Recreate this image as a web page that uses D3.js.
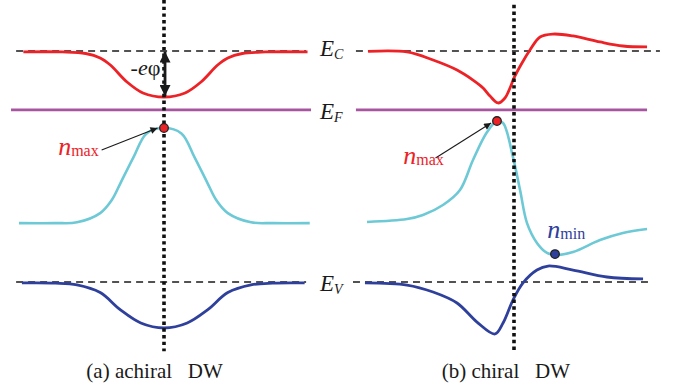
<!DOCTYPE html>
<html>
<head>
<meta charset="utf-8">
<script src="https://cdn.jsdelivr.net/npm/d3@7"></script>
<style>
  html, body { margin: 0; padding: 0; background: #fff; }
  svg { display: block; }
  text { font-family: "Liberation Serif", "Times New Roman", serif; }
</style>
</head>
<body>
<svg id="chart" width="685" height="390"></svg>
<script>
// Band diagrams across a domain wall (position in nm-like units, energy in eV-like units)
const levelEC = 1.2;
const levelEF = 0.894;
const levelEV = 0.0;

// (a) achiral domain wall
const achiralPosCB = [-9.7, -7.0, -5.4, -4.4, -3.7, -2.55, -1.45, 0, 1.45, 2.55, 3.7, 4.4, 5.4, 7.0, 9.9];
const achiralCB    = [1.195, 1.195, 1.187, 1.164, 1.127, 1.039, 0.982, 0.961, 0.982, 1.039, 1.127, 1.164, 1.187, 1.195, 1.195];
const achiralPosN  = [-10, -7.5, -6, -4.4, -3.6, -3.0, -2.1, -1.2, 0, 1.2, 2.1, 3.0, 3.6, 4.4, 6, 7.5, 10.05];
const achiralN     = [0.306, 0.306, 0.31, 0.358, 0.426, 0.514, 0.649, 0.772, 0.80, 0.772, 0.649, 0.514, 0.426, 0.358, 0.31, 0.306, 0.306];
const achiralPosVB = [-9.8, -7.5, -6, -4.4, -3.0, -1.6, 0, 1.6, 3.0, 4.4, 6, 7.5, 9.7];
const achiralVB    = [-0.005, -0.006, -0.015, -0.055, -0.145, -0.213, -0.239, -0.213, -0.145, -0.055, -0.015, -0.006, -0.005];

// (b) chiral domain wall
const chiralPosCB = [-9.86, -7.23, -5.47, -3.85, -2.77, -2.09, -1.62, -1.08, -0.61, -0.27, 0.0, 0.54, 1.08, 1.76, 2.64, 3.99, 5.81, 7.36, 8.99];
const chiralCB    = [1.198, 1.195, 1.153, 1.101, 1.049, 1.008, 0.966, 0.93, 0.956, 1.008, 1.060, 1.138, 1.205, 1.273, 1.288, 1.278, 1.247, 1.226, 1.221];
const chiralPosN  = [-9.93, -7.23, -6.15, -4.80, -3.65, -2.77, -1.82, -1.15, -0.74, -0.07, 0.41, 0.88, 1.55, 2.23, 2.77, 3.99, 5.81, 7.36, 8.99];
const chiralN     = [0.312, 0.327, 0.348, 0.400, 0.478, 0.634, 0.779, 0.836, 0.826, 0.649, 0.478, 0.306, 0.203, 0.151, 0.140, 0.156, 0.218, 0.255, 0.275];
const chiralPosVB = [-10.07, -7.23, -5.47, -3.85, -2.5, -1.28, -0.74, -0.07, 0.61, 1.55, 2.30, 3.99, 6.28, 8.72];
const chiralVB    = [-0.005, -0.016, -0.052, -0.109, -0.208, -0.270, -0.213, -0.094, -0.005, 0.062, 0.083, 0.062, 0.026, 0.016];

// Extremes marked with dots
const achiralMax = { z: 0, n: 0.80 };
const chiralMax  = { z: -1.15, n: 0.836 };
const chiralMin  = { z: 2.77, n: 0.145 };

// Extents of the reference levels in each panel
const achiralLevelsZ = { EC: [-10.2, 9.8], EF: [-10.55, 10.14], EV: [-10.2, 9.8] };
const chiralLevelsZ  = { EC: [-10.68, 9.86], EF: [-10.68, 8.99], EV: [-10.88, 9.39] };

const captions = ["(a) achiral\u00a0\u00a0\u00a0DW", "(b) chiral\u00a0\u00a0\u00a0DW"];

const colors = {
  cb: "#ec2227",
  ef: "#a8559f",
  n: "#6dc9d5",
  vb: "#2e409b",
  ink: "#1a1a1a"
};

const svg = d3.select("#chart");

const y = d3.scaleLinear().domain([0, 1.2]).range([282, 51]);
const xA = d3.scaleLinear().domain([-10, 10]).range([19, 309]);
const xB = d3.scaleLinear().domain([-10, 10]).range([366, 662]);

const defs = svg.append("defs");
function marker(id, w, h) {
  defs.append("marker")
    .attr("id", id)
    .attr("viewBox", "0 0 10 10")
    .attr("refX", 10).attr("refY", 5)
    .attr("markerUnits", "userSpaceOnUse")
    .attr("markerWidth", w).attr("markerHeight", h)
    .attr("orient", "auto-start-reverse")
    .append("path").attr("d", "M0,0 L10,5 L0,10 Z").attr("fill", colors.ink);
}
marker("bigHead", 13, 11);
marker("smallHead", 9, 7);

function zip(xs, ys) { return xs.map((v, i) => [v, ys[i]]); }

function drawPanel(x, posCB, cb, posN, n, posVB, vb, levels, dwTop) {
  const g = svg.append("g");
  const line = d3.line().x(d => x(d[0])).y(d => y(d[1])).curve(d3.curveCatmullRom.alpha(0.5));

  // dashed band-edge reference levels
  [["EC", levelEC], ["EV", levelEV]].forEach(([k, v]) => {
    g.append("line")
      .attr("x1", x(levels[k][0])).attr("x2", x(levels[k][1]))
      .attr("y1", y(v)).attr("y2", y(v))
      .attr("stroke", colors.ink).attr("stroke-width", 1.4)
      .attr("stroke-dasharray", "7,5");
  });

  // Fermi level
  g.append("line")
    .attr("x1", x(levels.EF[0])).attr("x2", x(levels.EF[1]))
    .attr("y1", y(levelEF)).attr("y2", y(levelEF))
    .attr("stroke", colors.ef).attr("stroke-width", 2.6);

  // carrier density
  g.append("path").datum(zip(posN, n)).attr("d", line)
    .attr("fill", "none").attr("stroke", colors.n).attr("stroke-width", 2.6);

  // conduction band
  g.append("path").datum(zip(posCB, cb)).attr("d", line)
    .attr("fill", "none").attr("stroke", colors.cb).attr("stroke-width", 2.8);

  // valence band
  g.append("path").datum(zip(posVB, vb)).attr("d", line)
    .attr("fill", "none").attr("stroke", colors.vb).attr("stroke-width", 2.8);

  // domain-wall centre
  g.append("line")
    .attr("x1", x(0)).attr("x2", x(0))
    .attr("y1", y(dwTop)).attr("y2", y(-0.36))
    .attr("stroke", "#111").attr("stroke-width", 3.6)
    .attr("stroke-dasharray", "3.4,3.3");
  return g;
}

const gA = drawPanel(xA, achiralPosCB, achiralCB, achiralPosN, achiralN, achiralPosVB, achiralVB, achiralLevelsZ, 1.465);
const gB = drawPanel(xB, chiralPosCB, chiralCB, chiralPosN, chiralN, chiralPosVB, chiralVB, chiralLevelsZ, 1.44);

// -eφ potential arrow in (a)
gA.append("line")
  .attr("x1", xA(0.07)).attr("x2", xA(0.07))
  .attr("y1", y(1.197)).attr("y2", y(0.966))
  .attr("stroke", colors.ink).attr("stroke-width", 2.8)
  .attr("marker-start", "url(#bigHead)")
  .attr("marker-end", "url(#bigHead)");
gA.append("text")
  .attr("x", xA(-0.25)).attr("y", y(1.075))
  .attr("text-anchor", "end")
  .attr("font-size", 22).attr("fill", colors.ink)
  .call(t => {
    t.append("tspan").text("-");
    t.append("tspan").attr("font-style", "italic").text("e");
    t.append("tspan").text("\u03c6");
  });

// n_max / n_min markers and labels
function dot(g, x, p, fill) {
  g.append("circle").attr("cx", x(p.z)).attr("cy", y(p.n)).attr("r", 4.3)
    .attr("fill", fill).attr("stroke", "#222").attr("stroke-width", 1.3);
}
function subLabel(g, px, py, main, sub, fill) {
  const t = g.append("text").attr("x", px).attr("y", py).attr("fill", fill);
  t.append("tspan").attr("font-style", "italic").attr("font-size", 26).text(main);
  t.append("tspan").attr("font-size", 16).attr("dy", 1).text(sub);
}

gA.append("line")
  .attr("x1", xA(-4.3)).attr("y1", y(0.686))
  .attr("x2", xA(-0.45)).attr("y2", y(0.80))
  .attr("stroke", colors.ink).attr("stroke-width", 1.1)
  .attr("marker-end", "url(#smallHead)");
dot(gA, xA, achiralMax, colors.cb);
subLabel(gA, xA(-7.3), y(0.662), "n", "max", colors.cb);

gB.append("line")
  .attr("x1", xB(-5.3)).attr("y1", y(0.644))
  .attr("x2", xB(-1.55)).attr("y2", y(0.826))
  .attr("stroke", colors.ink).attr("stroke-width", 1.1)
  .attr("marker-end", "url(#smallHead)");
dot(gB, xB, chiralMax, colors.cb);
subLabel(gB, xB(-7.48), y(0.613), "n", "max", colors.cb);

dot(gB, xB, chiralMin, colors.vb);
subLabel(gB, xB(2.25), y(0.228), "n", "min", colors.vb);

// level labels between the panels
const levelLabels = [
  { main: "E", sub: "C", v: levelEC, dy: 5 },
  { main: "E", sub: "F", v: levelEF, dy: 9 },
  { main: "E", sub: "V", v: levelEV, dy: 9 }
];
levelLabels.forEach(l => {
  const t = svg.append("text")
    .attr("x", 320).attr("y", y(l.v) + l.dy)
    .attr("fill", colors.ink);
  t.append("tspan").attr("font-style", "italic").attr("font-size", 23).text(l.main);
  t.append("tspan").attr("font-style", "italic").attr("font-size", 14).attr("dy", 3).text(l.sub);
});

// panel captions
svg.append("text").attr("x", xA(-0.65)).attr("y", y(-0.5))
  .attr("text-anchor", "middle").attr("font-size", 21).attr("fill", colors.ink)
  .text(captions[0]);
svg.append("text").attr("x", xB(-0.55)).attr("y", y(-0.5))
  .attr("text-anchor", "middle").attr("font-size", 21).attr("fill", colors.ink)
  .text(captions[1]);
</script>
</body>
</html>
